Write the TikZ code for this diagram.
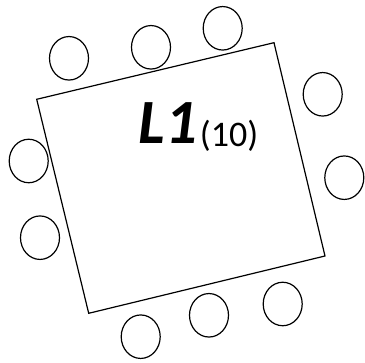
\documentclass[tikz,border=0pt]{standalone}
\usepackage{fontspec}
\setmainfont{Carlito}
\usetikzlibrary{shapes.geometric}

\tikzset{seat/.style={draw,ellipse,line width=1.2pt,minimum width=39pt,minimum height=43.5pt,inner sep=0pt}}

\begin{document}
\begin{tikzpicture}[x=1pt,y=-1pt,line width=1.2pt]
\useasboundingbox (0,0) rectangle (365,363);
\coordinate (nw) at (36.7,99.3);
\coordinate (ne) at (274,42.7);
\coordinate (se) at (325,256);
\coordinate (sw) at (88.7,313.3);
\draw[line join=miter] (nw) -- (ne) -- (se) -- (sw) -- cycle;
\node[seat] (s1) at (69,58.3) {};
\node[seat] (s2) at (151,47.3) {};
\node[seat] (s3) at (222.7,28.3) {};
\node[seat] (s4) at (322.7,94.3) {};
\node[seat] (s5) at (344.3,177.7) {};
\node[seat] (s6) at (282.7,304) {};
\node[seat] (s7) at (209,315.3) {};
\node[seat] (s8) at (140.7,336.7) {};
\node[seat] (s9) at (40,237.7) {};
\node[seat] (s10) at (28.7,161) {};
\node[anchor=base west,inner sep=0pt] (name) at (138.3,144) {\fontsize{63}{63}\selectfont\bfseries\itshape L1};
\node[anchor=base west,inner sep=0pt] (count) at (199.3,146.5) {\fontsize{36}{36}\selectfont (10)};
\end{tikzpicture}
\end{document}
